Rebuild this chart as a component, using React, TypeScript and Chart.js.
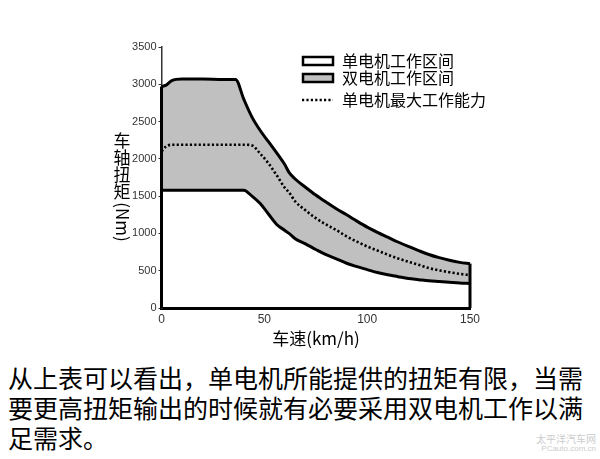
import React, { useEffect, useRef } from "react";
import { Chart, registerables } from "chart.js";

Chart.register(...registerables);

const speeds = [0, 2, 5, 10, 20, 30, 36, 40, 44, 48, 52, 56, 60, 62, 65, 70, 75, 80, 85, 90, 95, 100, 105, 110, 115, 120, 125, 130, 135, 140, 145, 150];
const dualMotor = [2970, 2985, 3050, 3070, 3070, 3065, 3065, 2800, 2560, 2380, 2230, 2080, 1920, 1820, 1730, 1620, 1515, 1420, 1330, 1250, 1165, 1085, 1015, 950, 885, 825, 770, 718, 675, 640, 612, 595];
const singleMotor = [1580, 1580, 1580, 1580, 1580, 1580, 1580, 1580, 1500, 1400, 1260, 1120, 1040, 1000, 930, 860, 785, 715, 660, 600, 555, 515, 475, 445, 420, 395, 380, 365, 355, 345, 335, 330];
const singleMax = [2100, 2160, 2190, 2190, 2190, 2190, 2190, 2190, 2180, 2070, 1940, 1780, 1610, 1550, 1430, 1310, 1205, 1120, 1045, 960, 890, 825, 770, 715, 665, 620, 580, 535, 505, 480, 458, 440];

const legendLabels = ["单电机工作区间", "双电机工作区间", "单电机最大工作能力"];
const yTitleChars = ["车", "轴", "扭", "矩"];
const yTitleTail = "(Nm)";
const xTitle = "车速(km/h)";
const bodyLines = [
  "从上表可以看出，单电机所能提供的扭矩有限，当需",
  "要更高扭矩输出的时候就有必要采用双电机工作以满",
  "足需求。",
];
const watermark = ["太平洋汽车网", "PCauto.com.cn"];

const GRAY = "rgb(192,192,192)";
const CJK = '"Noto Sans CJK SC", "Noto Sans", sans-serif';

export default function App() {
  const ref = useRef<HTMLCanvasElement | null>(null);

  useEffect(() => {
    const canvas = ref.current;
    if (!canvas) return;
    const pts = (vals: number[]) => speeds.map((s, i) => ({ x: s, y: vals[i] }));

    const decor = {
      id: "decor",
      afterDraw(chart: any) {
        const ctx = chart.ctx as CanvasRenderingContext2D;
        ctx.save();
        // legend
        ctx.lineWidth = 2.5;
        ctx.strokeStyle = "#000";
        ctx.fillStyle = "#fff";
        ctx.fillRect(303, 57, 30, 8);
        ctx.strokeRect(303, 57, 30, 8);
        ctx.fillStyle = GRAY;
        ctx.fillRect(303, 74, 30, 8);
        ctx.strokeRect(303, 74, 30, 8);
        ctx.setLineDash([2.2, 2.2]);
        ctx.beginPath();
        ctx.moveTo(302, 100);
        ctx.lineTo(333, 100);
        ctx.stroke();
        ctx.setLineDash([]);
        ctx.fillStyle = "#000";
        ctx.font = `16px ${CJK}`;
        ctx.textBaseline = "middle";
        ctx.textAlign = "left";
        ctx.fillText(legendLabels[0], 342, 61);
        ctx.fillText(legendLabels[1], 342, 78);
        ctx.fillText(legendLabels[2], 342, 100);
        // y title
        ctx.font = `17px ${CJK}`;
        ctx.textAlign = "center";
        yTitleChars.forEach((c, i) => ctx.fillText(c, 122, 141 + i * 17));
        ctx.save();
        ctx.translate(122, 222);
        ctx.rotate(Math.PI / 2);
        ctx.fillText(yTitleTail, 0, 0);
        ctx.restore();
        // x title
        ctx.fillText(xTitle, 316, 339);
        ctx.restore();
      },
    };

    const tickFont = { family: '"Liberation Sans", Arial, sans-serif', size: 11 };

    const chart = new Chart(canvas, {
      type: "line",
      data: {
        datasets: [
          {
            label: "dual",
            data: pts(dualMotor),
            borderColor: "#000",
            borderWidth: 3,
            backgroundColor: GRAY,
            fill: 1,
            pointRadius: 0,
            cubicInterpolationMode: "monotone",
            clip: false,
            order: 5,
          },
          {
            label: "single",
            data: pts(singleMotor),
            borderColor: "#000",
            borderWidth: 3,
            fill: false,
            pointRadius: 0,
            cubicInterpolationMode: "monotone",
            clip: false,
            order: 1,
          },
          {
            label: "singleMax",
            data: pts(singleMax),
            borderColor: "#000",
            borderWidth: 2.6,
            borderDash: [2.2, 2.2],
            fill: false,
            pointRadius: 0,
            cubicInterpolationMode: "monotone",
            clip: false,
            order: 0,
          },
          {
            label: "leftEdge",
            data: [
              { x: speeds[0], y: 0 },
              { x: speeds[0], y: dualMotor[0] },
            ],
            borderColor: "#000",
            borderWidth: 3,
            fill: false,
            pointRadius: 0,
            clip: false,
            order: 0,
          },
          {
            label: "rightEdge",
            data: [
              { x: speeds[speeds.length - 1], y: 0 },
              { x: speeds[speeds.length - 1], y: dualMotor[dualMotor.length - 1] },
            ],
            borderColor: "#000",
            borderWidth: 3,
            fill: false,
            pointRadius: 0,
            clip: false,
            order: 0,
          },
        ],
      },
      options: {
        responsive: false,
        animation: false,
        devicePixelRatio: 1,
        layout: { padding: { left: 0, right: 130, top: 47, bottom: 0 } },
        plugins: {
          legend: { display: false },
          tooltip: { enabled: false },
          filler: { drawTime: "beforeDatasetsDraw" },
        },
        scales: {
          x: {
            type: "linear",
            min: 0,
            max: 150,
            afterFit: (s: any) => {
              s.height = 42;
            },
            ticks: {
              stepSize: 50,
              padding: 4,
              color: "#333",
              font: { ...tickFont, size: 12 },
              callback: (v: any) => String(v),
            },
            grid: { display: false, drawTicks: false },
            border: { display: true, color: "#000", width: 3 },
          },
          y: {
            min: 0,
            max: 3500,
            afterFit: (s: any) => {
              s.width = 161.5;
            },
            ticks: {
              stepSize: 500,
              padding: 2,
              color: "#333",
              font: tickFont,
              callback: (v: any) => String(v),
            },
            grid: { display: true, drawOnChartArea: false, tickLength: 3, color: "#333" },
            border: { display: true, color: "#333", width: 1.5 },
          },
        },
      },
      plugins: [decor],
    } as any);
    return () => chart.destroy();
  }, []);

  return (
    <div style={{ position: "absolute", left: 0, top: 0, width: 600, height: 459, background: "#fff", overflow: "hidden" }}>
      <canvas ref={ref} width={600} height={350} style={{ position: "absolute", left: 0, top: 0, width: 600, height: 350 }} />
      <div style={{ position: "absolute", left: 8, top: 362, fontFamily: CJK, fontSize: 25, lineHeight: "30px", color: "#000", whiteSpace: "nowrap" }}>
        {bodyLines.map((l, i) => (
          <div key={i}>{l}</div>
        ))}
      </div>
      <div style={{ position: "absolute", right: 4, top: 434, fontFamily: CJK, color: "#ccc", textAlign: "right", lineHeight: "10px" }}>
        <div style={{ fontSize: 10 }}>{watermark[0]}</div>
        <div style={{ fontSize: 8, fontFamily: '"Liberation Sans", sans-serif' }}>{watermark[1]}</div>
      </div>
    </div>
  );
}
